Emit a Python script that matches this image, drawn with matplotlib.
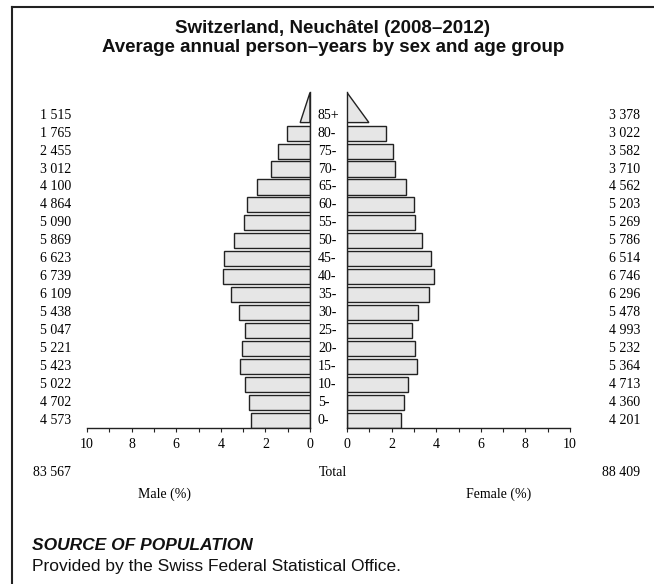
import matplotlib
matplotlib.use("Agg")
import matplotlib.pyplot as plt
from matplotlib.patches import Polygon
from matplotlib.lines import Line2D
from matplotlib.ticker import MultipleLocator

age_groups = ["0-", "5-", "10-", "15-", "20-", "25-", "30-", "35-", "40-",
              "45-", "50-", "55-", "60-", "65-", "70-", "75-", "80-", "85+"]
male = [4573, 4702, 5022, 5423, 5221, 5047, 5438, 6109, 6739,
        6623, 5869, 5090, 4864, 4100, 3012, 2455, 1765, 1515]
female = [4201, 4360, 4713, 5364, 5232, 4993, 5478, 6296, 6746,
          6514, 5786, 5269, 5203, 4562, 3710, 3582, 3022, 3378]

W, H = 654, 584


def fx(px):
    return px / W


def fy(py):
    return 1 - py / H


def fmt(n):
    return f"{n:,}".replace(",", " ")


total = sum(male) + sum(female)
male_pct = [v / total * 100 for v in male]
female_pct = [v / total * 100 for v in female]

serif = "Liberation Serif"
sans = "Liberation Sans"
bar_h = 0.836
face = "#e6e6e6"
edge = "#222222"

fig = plt.figure(figsize=(W / 100, H / 100), dpi=100)

# frame lines (left and top)
fig.add_artist(Line2D([fx(12), fx(12)], [fy(7), 0], color="#222", lw=1.5))
fig.add_artist(Line2D([fx(12), 1], [fy(7), fy(7)], color="#222", lw=1.5))

bottom_px, top_px = 428.3, 92.5
ax_b = fy(bottom_px)
ax_h = (bottom_px - top_px) / H
ylo = -bar_h / 2
yhi = len(age_groups) - 1 - bar_h / 2 + 2 * bar_h

axm = fig.add_axes([fx(87), ax_b, fx(310) - fx(87), ax_h])
axf = fig.add_axes([fx(347), ax_b, fx(570) - fx(347), ax_h])

n = len(age_groups)
for ax, pct in [(axm, male_pct), (axf, female_pct)]:
    ax.barh(range(n - 1), pct[:-1], height=bar_h, color=face,
            edgecolor=edge, linewidth=1)
    # open-ended 85+ group drawn as a triangle
    base = n - 1 - bar_h / 2
    tri = Polygon([(0, base), (pct[-1] / 2, base), (0, yhi)], closed=True,
                  facecolor=face, edgecolor=edge, linewidth=1)
    ax.add_patch(tri)
    ax.set_xlim(0, 10)
    ax.set_ylim(ylo, yhi)
    ax.set_yticks([])
    ax.xaxis.set_major_locator(MultipleLocator(2))
    ax.xaxis.set_minor_locator(MultipleLocator(1))
    ax.tick_params(axis="x", which="both", length=3, width=0.8, color="#222",
                   labelsize=10, pad=4)
    for lab in ax.get_xticklabels():
        lab.set_fontfamily(serif)
    ax.spines["top"].set_visible(False)
    for s in ax.spines.values():
        s.set_color("#222")
        s.set_linewidth(1)
    ax.set_facecolor("none")

axm.invert_xaxis()
axm.spines["left"].set_visible(False)
axf.spines["right"].set_visible(False)

# labels for each row
for i in range(n):
    yy = axm.transData.transform((0, i))[1] / H
    fig.text(fx(71), yy, fmt(male[i]), ha="right", va="center",
             family=serif, fontsize=10)
    fig.text(fx(318), yy, age_groups[i], ha="left", va="center",
             family=serif, fontsize=10)
    fig.text(fx(640), yy, fmt(female[i]), ha="right", va="center",
             family=serif, fontsize=10)

fig.text(fx(71), fy(472), fmt(sum(male)), ha="right", va="center",
         family=serif, fontsize=10)
fig.text(fx(333), fy(472), "Total", ha="center", va="center",
         family=serif, fontsize=10)
fig.text(fx(640), fy(472), fmt(sum(female)), ha="right", va="center",
         family=serif, fontsize=10)
fig.text(fx(165), fy(494), "Male (%)", ha="center", va="center",
         family=serif, fontsize=10)
fig.text(fx(499), fy(494), "Female (%)", ha="center", va="center",
         family=serif, fontsize=10)

fig.text(fx(333), fy(38), "Switzerland, Neuchâtel (2008–2012)\n"
         "Average annual person–years by sex and age group",
         ha="center", va="center", family=sans, fontsize=13.5,
         fontweight="bold", linespacing=1.1, color="#111")

fig.text(fx(32), fy(545), "SOURCE OF POPULATION", ha="left", va="center",
         family=sans, fontsize=12.5, fontweight="bold", style="italic",
         color="#111")
fig.text(fx(32), fy(567), "Provided by the Swiss Federal Statistical Office.",
         ha="left", va="center", family=sans, fontsize=12.5, color="#111")

fig.savefig("out.png", dpi=100)
